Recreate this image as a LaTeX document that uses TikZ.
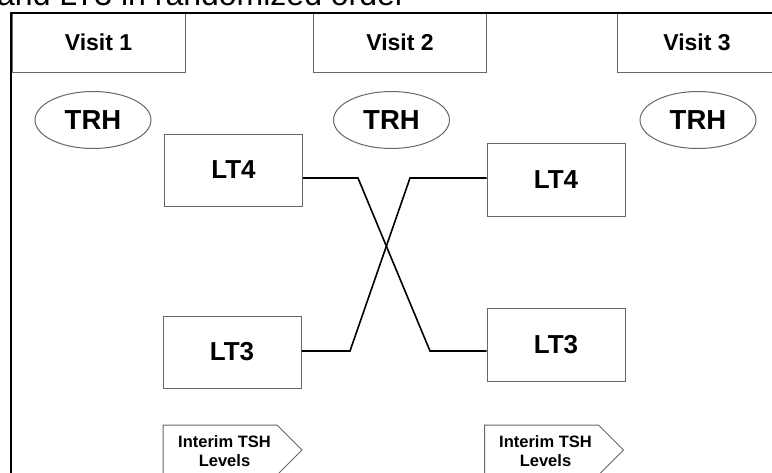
\documentclass[tikz,border=0pt]{standalone}
\usepackage{fontspec}
\setmainfont{Liberation Sans}
\usetikzlibrary{shapes.geometric,shapes.symbols}
\tikzset{
  visita/.style={draw=black!60, line width=1pt, minimum width=173pt, minimum height=59pt, inner sep=0pt, font=\bfseries\fontsize{23}{23}\selectfont},
  trh/.style={ellipse, draw=black!60, line width=1pt, minimum width=116pt, minimum height=57pt, inner sep=0pt, font=\bfseries\fontsize{27.5}{28}\selectfont},
  lt/.style={draw=black!60, line width=1pt, minimum width=138pt, minimum height=72pt, inner sep=0pt, font=\bfseries\fontsize{26}{26}\selectfont},
  senal/.style={signal, signal to=east, signal pointer angle=90, draw=black!60, line width=1pt, minimum width=139pt, minimum height=50pt, inner sep=0pt},
  tsh/.style={align=center, inner sep=0pt, font=\bfseries\fontsize{16.5}{19}\selectfont},
  enlace/.style={line width=1.6pt, black}
}
\begin{document}
\begin{tikzpicture}[x=1pt, y=-1pt]
    \useasboundingbox (0,0) rectangle (772,472);
    \clip (0,0) rectangle (772,472);
    % Titulo cortado
    \node[anchor=base west, inner sep=0pt, font=\fontsize{32}{32}\selectfont] (titulo) at (-3,5) {and LT3 in randomized order};
    % Visitas
    \node[visita] (v1) at (98.5,42.5) {Visit 1};
    \node[visita] (v2) at (400,42.5) {Visit 2};
    \node[visita, minimum width=160pt] (v3) at (697,42.5) {Visit 3};
    % TRH
    \node[trh] (trh1) at (93,120) {TRH};
    \node[trh] (trh2) at (391.5,120) {TRH};
    \node[trh] (trh3) at (698,120) {TRH};
    % LT4 y LT3
    \node[lt] (lt4a) at (233.5,170) {LT4};
    \node[lt] (lt3a) at (232,352) {LT3};
    \node[lt, minimum height=73pt] (lt4b) at (556,179.5) {LT4};
    \node[lt, minimum height=73pt] (lt3b) at (556,344.5) {LT3};
    % Cruce
    \coordinate (k1) at (358,178);
    \coordinate (k2) at (430,351);
    \coordinate (k3) at (350,351);
    \coordinate (k4) at (410,178);
    \draw[enlace] (lt4a.east |- k1) -- (k1) -- (k2) -- (lt3b.west |- k2);
    \draw[enlace] (lt3a.east |- k3) -- (k3) -- (k4) -- (lt4b.west |- k4);
    % Interim TSH
    \node[senal] (s1) at (220,450) {};
    \node[senal] (s2) at (541.5,450) {};
    \node[tsh] (t1) at (224.5,451) {Interim TSH\\Levels};
    \node[tsh] (t2) at (545.5,451) {Interim TSH\\Levels};
    % Marco
    \draw[line width=1.8pt] (11,490) -- (11,13) -- (790,13);
\end{tikzpicture}
\end{document}
